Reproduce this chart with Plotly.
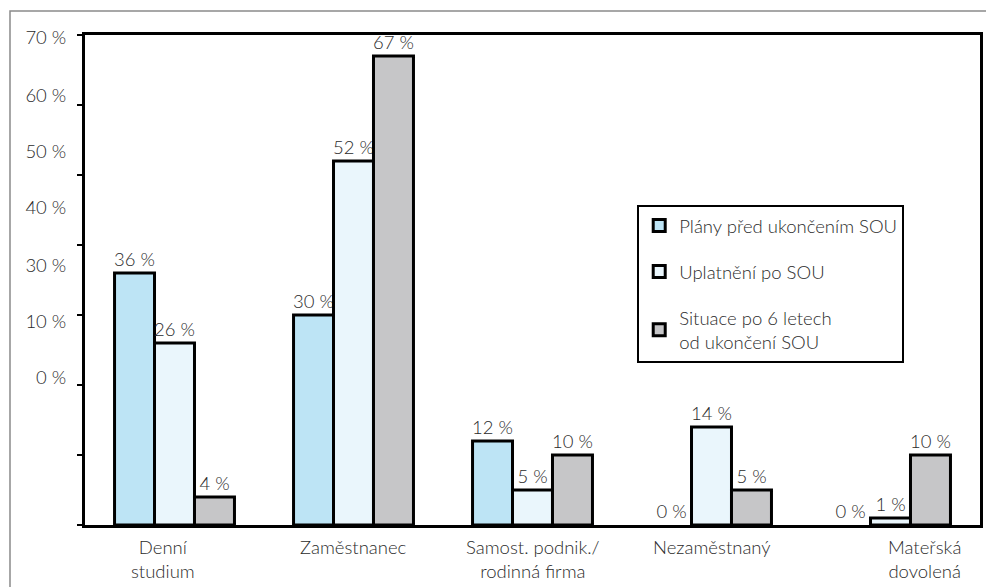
import plotly.graph_objects as go

categories = ["Denní<br>studium", "Zaměstnanec", "Samost. podnik./<br>rodinná firma",
              "Nezaměstnaný", "Mateřská<br>dovolená"]
series_names = ["Plány před ukončením SOU", "Uplatnění po SOU",
                "Situace po 6 letech<br>od ukončení SOU"]
plany = [36, 30, 12, 0, 0]
uplatneni = [26, 52, 5, 14, 1]
situace = [4, 67, 10, 5, 10]
y_tick_labels = ["70 %", "60 %", "50 %", "40 %", "30 %", "10 %", "0 %"]

# layout-only settings
y_label_positions = [69.6, 61.4, 53.3, 45.3, 37.1, 29.1, 21.1]
cat_label_shift = [-12, 0, 0, 0, 34]
colors = ["#bde4f5", "#eaf6fc", "#c6c6c8"]
FONT = "Lato, 'Open Sans', sans-serif"
TXT = "#2b2b2b"
FS = 18.5

fig = go.Figure()
for i, (name, vals) in enumerate(zip(series_names, [plany, uplatneni, situace])):
    fig.add_trace(go.Bar(
        x=categories, y=vals, name=name, legendgroup=f"g{i}",
        marker=dict(color=colors[i],
                    line=dict(color="black", width=[3 if v > 0 else 0 for v in vals])),
        texttemplate="%{y} %", textposition="outside", constraintext="none",
        textfont=dict(family=FONT, size=FS, color=TXT, weight=300), cliponaxis=False,
    ))

for cat, sh in zip(categories, cat_label_shift):
    fig.add_annotation(x=cat, xref="x", y=0, yref="paper", yanchor="top",
                       yshift=-9, xshift=sh, text=cat, showarrow=False,
                       font=dict(family=FONT, size=FS, color=TXT, weight=300))

fig.add_shape(type="rect", xref="paper", yref="paper",
              x0=-0.0838, x1=1.05, y0=-0.2, y1=1.049,
              line=dict(color="#8a8a8a", width=1.5), layer="below")

fig.update_layout(
    width=994, height=587,
    margin=dict(l=77, r=22, t=27, b=70),
    paper_bgcolor="white", plot_bgcolor="white",
    barmode="group", bargap=0.33, bargroupgap=0,
    font=dict(family=FONT, size=FS, color=TXT, weight=300),
    xaxis=dict(showticklabels=False, ticks="", showline=True, mirror=True,
               linecolor="black", linewidth=3, showgrid=False),
    yaxis=dict(range=[0, 70], dtick=10, showticklabels=False, ticks="outside",
               ticklen=5, tickwidth=2, tickcolor="black", showline=True,
               mirror=True, linecolor="black", linewidth=3, showgrid=False,
               zeroline=False),
    yaxis2=dict(overlaying="y", side="left", range=[0, 70],
                tickmode="array", tickvals=y_label_positions, ticktext=y_tick_labels,
                ticks="outside", ticklen=14, tickcolor="rgba(0,0,0,0)",
                showline=False, showgrid=False, zeroline=False,
                tickfont=dict(family=FONT, size=FS, color=TXT, weight=300)),
    legend=dict(x=0.617, y=0.653, xanchor="left", yanchor="top",
                bordercolor="black", borderwidth=2, bgcolor="white",
                font=dict(family=FONT, size=FS, color=TXT, weight=300),
                tracegroupgap=19, traceorder="grouped"),
    showlegend=True,
)
fig.add_trace(go.Scatter(x=[categories[0]], y=[0], yaxis="y2", mode="markers",
                         marker=dict(opacity=0), showlegend=False, hoverinfo="skip"))

fig.write_html("out.html")
